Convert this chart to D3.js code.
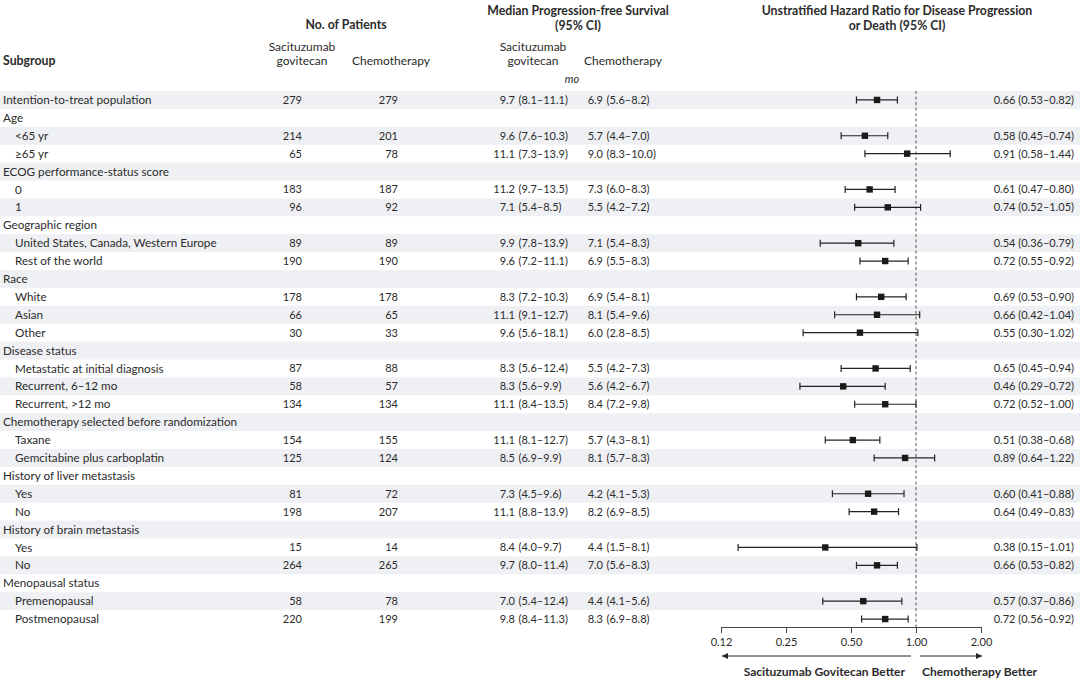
<!DOCTYPE html>
<html><head><meta charset="utf-8">
<script src="https://cdn.jsdelivr.net/npm/d3@7"></script>
<style>
body{margin:0;background:#fff;}
svg{display:block;font-family:Lato, "Open Sans", sans-serif;}
</style></head>
<body><svg id="c" width="1080" height="683"></svg>
<script>
const subgroups = ["Intention-to-treat population","Age","<65 yr","≥65 yr","ECOG performance-status score","0","1","Geographic region","United States, Canada, Western Europe","Rest of the world","Race","White","Asian","Other","Disease status","Metastatic at initial diagnosis","Recurrent, 6–12 mo","Recurrent, >12 mo","Chemotherapy selected before randomization","Taxane","Gemcitabine plus carboplatin","History of liver metastasis","Yes","No","History of brain metastasis","Yes","No","Menopausal status","Premenopausal","Postmenopausal"];
const indent = [0,0,1,1,0,1,1,0,1,1,0,1,1,1,0,1,1,1,0,1,1,0,1,1,0,1,1,0,1,1];
const nSG    = [279,null,214,65,null,183,96,null,89,190,null,178,66,30,null,87,58,134,null,154,125,null,81,198,null,15,264,null,58,220];
const nChemo = [279,null,201,78,null,187,92,null,89,190,null,178,65,33,null,88,57,134,null,155,124,null,72,207,null,14,265,null,78,199];
const pfsSG     = ["9.7",null,"9.6","11.1",null,"11.2","7.1",null,"9.9","9.6",null,"8.3","11.1","9.6",null,"8.3","8.3","11.1",null,"11.1","8.5",null,"7.3","11.1",null,"8.4","9.7",null,"7.0","9.8"];
const pfsSGci   = ["8.1–11.1",null,"7.6–10.3","7.3–13.9",null,"9.7–13.5","5.4–8.5",null,"7.8–13.9","7.2–11.1",null,"7.2–10.3","9.1–12.7","5.6–18.1",null,"5.6–12.4","5.6–9.9","8.4–13.5",null,"8.1–12.7","6.9–9.9",null,"4.5–9.6","8.8–13.9",null,"4.0–9.7","8.0–11.4",null,"5.4–12.4","8.4–11.3"];
const pfsChemo  = ["6.9",null,"5.7","9.0",null,"7.3","5.5",null,"7.1","6.9",null,"6.9","8.1","6.0",null,"5.5","5.6","8.4",null,"5.7","8.1",null,"4.2","8.2",null,"4.4","7.0",null,"4.4","8.3"];
const pfsChemoCI= ["5.6–8.2",null,"4.4–7.0","8.3–10.0",null,"6.0–8.3","4.2–7.2",null,"5.4–8.3","5.5–8.3",null,"5.4–8.1","5.4–9.6","2.8–8.5",null,"4.2–7.3","4.2–6.7","7.2–9.8",null,"4.3–8.1","5.7–8.3",null,"4.1–5.3","6.9–8.5",null,"1.5–8.1","5.6–8.3",null,"4.1–5.6","6.9–8.8"];
const hr     = [0.66,null,0.58,0.91,null,0.61,0.74,null,0.54,0.72,null,0.69,0.66,0.55,null,0.65,0.46,0.72,null,0.51,0.89,null,0.60,0.64,null,0.38,0.66,null,0.57,0.72];
const hrLow  = [0.53,null,0.45,0.58,null,0.47,0.52,null,0.36,0.55,null,0.53,0.42,0.30,null,0.45,0.29,0.52,null,0.38,0.64,null,0.41,0.49,null,0.15,0.53,null,0.37,0.56];
const hrHigh = [0.82,null,0.74,1.44,null,0.80,1.05,null,0.79,0.92,null,0.90,1.04,1.02,null,0.94,0.72,1.00,null,0.68,1.22,null,0.88,0.83,null,1.01,0.82,null,0.86,0.92];
const tickValues = [0.125,0.25,0.5,1,2];
const tickLabels = ["0.12","0.25","0.50","1.00","2.00"];

const svg = d3.select("#c");
const ink = "#2b2b2b";
const fs = 11;        // numbers
const fsLab = 11.7;   // row labels
const fsSub = 12;     // column sub-headers
const fsHead = 12.3;  // bold headers
const idx = d3.range(subgroups.length);
const y = d3.scaleBand().domain(idx).range([91, 628]).padding(0);
const yc = i => y(i) + y.bandwidth()/2;
const x = d3.scaleLog().base(2).domain([0.125, 2]).range([721, 981]);

// stripes
svg.append("g").selectAll("rect").data(idx.filter(i => i % 2 === 0)).join("rect")
  .attr("x", 0).attr("width", 1080).attr("y", i => y(i)).attr("height", y.bandwidth())
  .attr("fill", "#eff0f3");

// headers
const H = svg.append("g").attr("fill", ink);
function ht(t, xx, yy, anchor, weight, style, size) {
  H.append("text").attr("x", xx).attr("y", yy).attr("text-anchor", anchor || "middle")
    .attr("font-weight", weight || "normal").attr("font-style", style || "normal")
    .attr("font-size", size || (weight === "bold" ? fsHead : fsSub)).text(t);
}
ht("No. of Patients", 346, 29, "middle", "bold");
ht("Sacituzumab", 302, 51); ht("govitecan", 302, 65);
ht("Chemotherapy", 391, 65);
ht("Subgroup", 3, 65, "start", "bold");
ht("Median Progression-free Survival", 578, 15, "middle", "bold");
ht("(95% CI)", 578, 30, "middle", "bold");
ht("Sacituzumab", 533, 51); ht("govitecan", 533, 65);
ht("Chemotherapy", 623, 65);
ht("mo", 572, 83, "middle", "normal", "italic", 11);
ht("Unstratified Hazard Ratio for Disease Progression", 897, 15, "middle", "bold");
ht("or Death (95% CI)", 897, 30, "middle", "bold");

// row texts
const R = svg.append("g").attr("fill", ink).attr("font-size", fs);
R.selectAll("text.lab").data(idx).join("text").attr("class","lab").attr("font-size", fsLab)
  .attr("x", i => indent[i] ? 15 : 3).attr("y", yc).attr("dy", "0.35em").text(i => subgroups[i]);
const dataRows = idx.filter(i => hr[i] !== null);
R.selectAll("text.n1").data(dataRows).join("text").attr("class","n1")
  .attr("x", 302).attr("y", yc).attr("dy","0.35em").attr("text-anchor","end").text(i => nSG[i]);
R.selectAll("text.n2").data(dataRows).join("text").attr("class","n2")
  .attr("x", 398).attr("y", yc).attr("dy","0.35em").attr("text-anchor","end").text(i => nChemo[i]);
R.selectAll("text.p1").data(dataRows).join("text").attr("class","p1")
  .attr("x", 515).attr("y", yc).attr("dy","0.35em").attr("text-anchor","end").text(i => pfsSG[i]);
R.selectAll("text.c1").data(dataRows).join("text").attr("class","c1")
  .attr("x", 518.5).attr("y", yc).attr("dy","0.35em").text(i => "(" + pfsSGci[i] + ")");
R.selectAll("text.p2").data(dataRows).join("text").attr("class","p2")
  .attr("x", 603).attr("y", yc).attr("dy","0.35em").attr("text-anchor","end").text(i => pfsChemo[i]);
R.selectAll("text.c2").data(dataRows).join("text").attr("class","c2")
  .attr("x", 606.5).attr("y", yc).attr("dy","0.35em").text(i => "(" + pfsChemoCI[i] + ")");
R.selectAll("text.hr").data(dataRows).join("text").attr("class","hr")
  .attr("x", 1074).attr("y", yc).attr("dy","0.35em").attr("text-anchor","end")
  .text(i => hr[i].toFixed(2) + " (" + hrLow[i].toFixed(2) + "–" + hrHigh[i].toFixed(2) + ")");

// reference line
svg.append("line").attr("x1", x(1)).attr("x2", x(1)).attr("y1", 91).attr("y2", 627)
  .attr("stroke", "#555").attr("stroke-width", 1).attr("stroke-dasharray", "3,2.5");

// CIs
const F = svg.append("g").attr("stroke", "#222").attr("stroke-width", 1.2);
F.selectAll("line.ci").data(dataRows).join("line").attr("class","ci")
  .attr("x1", i => x(hrLow[i])).attr("x2", i => x(hrHigh[i])).attr("y1", yc).attr("y2", yc);
F.selectAll("line.capL").data(dataRows).join("line").attr("class","capL")
  .attr("x1", i => x(hrLow[i])).attr("x2", i => x(hrLow[i])).attr("y1", i => yc(i)-3.5).attr("y2", i => yc(i)+3.5);
F.selectAll("line.capR").data(dataRows).join("line").attr("class","capR")
  .attr("x1", i => x(hrHigh[i])).attr("x2", i => x(hrHigh[i])).attr("y1", i => yc(i)-3.5).attr("y2", i => yc(i)+3.5);
svg.append("g").selectAll("rect").data(dataRows).join("rect")
  .attr("x", i => x(hr[i]) - 3.2).attr("y", i => yc(i) - 3.2).attr("width", 6.4).attr("height", 6.4)
  .attr("fill", "#1a1a1a");

// axis
const axis = d3.axisBottom(x).tickValues(tickValues).tickFormat((d, k) => tickLabels[k]).tickSize(6).tickSizeOuter(0);
const ag = svg.append("g").attr("transform", "translate(0,627)").call(axis);
ag.select(".domain").attr("stroke", "#444");
ag.selectAll(".tick line").attr("stroke", "#444");
ag.selectAll(".tick text").attr("font-family", "Lato, 'Open Sans', sans-serif").attr("font-size", fs).attr("fill", ink).attr("dy", "0.9em");

// arrows
const defs = svg.append("defs");
defs.append("marker").attr("id","ah").attr("viewBox","0 0 10 10").attr("refX",10).attr("refY",5)
  .attr("markerWidth",9).attr("markerHeight",6).attr("orient","auto-start-reverse").attr("markerUnits","userSpaceOnUse")
  .append("path").attr("d","M0,0 L10,5 L0,10 z").attr("fill","#222");
svg.append("line").attr("x1", x(1)-5).attr("x2", x(0.125)+1).attr("y1", 656).attr("y2", 656)
  .attr("stroke","#222").attr("stroke-width",1).attr("marker-end","url(#ah)");
svg.append("line").attr("x1", x(1)+4).attr("x2", x(2)+1).attr("y1", 656).attr("y2", 656)
  .attr("stroke","#222").attr("stroke-width",1).attr("marker-end","url(#ah)");
svg.append("text").attr("x", 905).attr("y", 676).attr("text-anchor","end").attr("font-weight","bold")
  .attr("font-size", 12).attr("fill", ink).text("Sacituzumab Govitecan Better");
svg.append("text").attr("x", 922).attr("y", 676).attr("font-weight","bold")
  .attr("font-size", 12).attr("fill", ink).text("Chemotherapy Better");
</script></body></html>
